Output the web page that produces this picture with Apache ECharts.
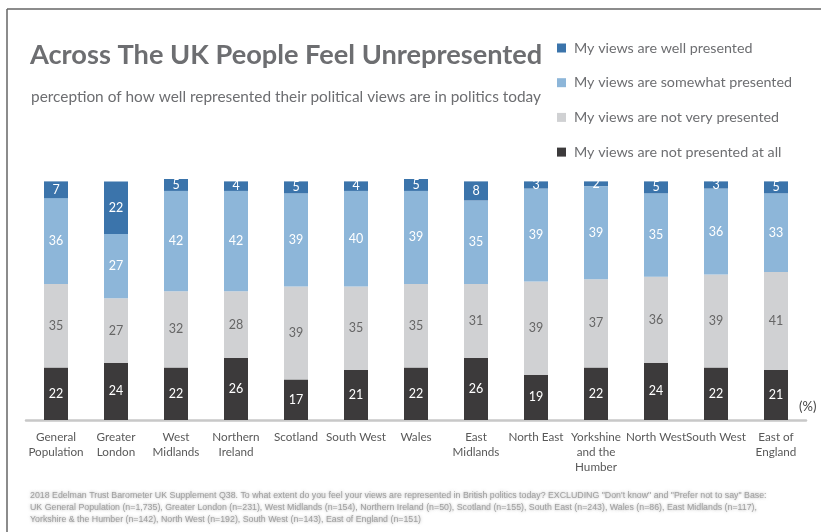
<!DOCTYPE html>
<html>
<head>
<meta charset="utf-8">
<style>
  html, body { margin: 0; padding: 0; background: #ffffff; }
  #chart { width: 821px; height: 532px; }
</style>
<script src="https://cdn.jsdelivr.net/npm/echarts@6/dist/echarts.min.js"></script>
</head>
<body>
<div id="chart"></div>
<script>
// Regions, left to right
const categories = [
  'General\nPopulation', 'Greater\nLondon', 'West\nMidlands', 'Northern\nIreland',
  'Scotland', 'South West', 'Wales', 'East\nMidlands', 'North East',
  'Yorkshine\nand the\nHumber', 'North West', 'South West', 'East of\nEngland'
];

// Share of respondents (%) per answer, stacked bottom to top
const notAtAll = [22, 24, 22, 26, 17, 21, 22, 26, 19, 22, 24, 22, 21];
const notVery  = [35, 27, 32, 28, 39, 35, 35, 31, 39, 37, 36, 39, 41];
const somewhat = [36, 27, 42, 42, 39, 40, 39, 35, 39, 39, 35, 36, 33];
const well     = [7, 22, 5, 4, 5, 4, 5, 8, 3, 2, 5, 3, 5];

const seriesNames = [
  'My views are not presented at all',
  'My views are not very presented',
  'My views are somewhat presented',
  'My views are well presented'
];
const legendOrder = [seriesNames[3], seriesNames[2], seriesNames[1], seriesNames[0]];

const footnote = [
  '2018 Edelman Trust Barometer UK Supplement Q38. To what extent do you feel your views are represented in British politics today? EXCLUDING "Don\'t know" and "Prefer not to say" Base:',
  'UK General Population (n=1,735), Greater London (n=231), West Midlands (n=154), Northern Ireland (n=50), Scotland (n=155), South East (n=243), Wales (n=86), East Midlands (n=117),',
  'Yorkshire & the Humber (n=142), North West (n=192), South West (n=143), East of England (n=151)'
];

const colors = ['#3c3a3b', '#d0d1d3', '#8db6d9', '#3b74ab'];
const labelColors = ['#ffffff', '#666666', '#ffffff', '#ffffff'];
const values = [notAtAll, notVery, somewhat, well];

const FONT = 'Lato, "Open Sans", sans-serif';

const chart = echarts.init(document.getElementById('chart'), null, { renderer: 'canvas' });

chart.setOption({
  backgroundColor: '#ffffff',
  animation: false,
  textStyle: { fontFamily: FONT },
  title: [
    {
      text: 'Across The UK People Feel Unrepresented',
      left: 30, top: 42, padding: 0,
      textStyle: { fontFamily: FONT, fontSize: 27.2, fontWeight: 'bold', color: '#6d6e71' }
    },
    {
      text: 'perception of how well represented their political views are in politics today',
      left: 31, top: 90, padding: 0,
      textStyle: { fontFamily: FONT, fontSize: 15.4, fontWeight: 'normal', color: '#6d6e71' }
    }
  ],
  legend: {
    data: legendOrder,
    orient: 'vertical',
    left: 552, top: 34,
    itemWidth: 9, itemHeight: 9,
    itemGap: 16.7,
    icon: 'rect',
    selectedMode: false,
    textStyle: { fontFamily: FONT, fontSize: 14.3, color: '#6d6e71', lineHeight: 18, padding: [0, 0, 0, 3] }
  },
  grid: { left: 26, right: 15, top: 179, bottom: 112, containLabel: false },
  xAxis: {
    type: 'category',
    data: categories,
    axisLine: { show: true, lineStyle: { color: '#c8c8c8', width: 2.5 } },
    axisTick: { show: false },
    axisLabel: {
      interval: 0, margin: 10,
      fontFamily: FONT, fontSize: 11.7, color: '#595959', lineHeight: 15
    }
  },
  yAxis: {
    type: 'value', min: 0, max: 101,
    show: false,
    splitLine: { show: false }
  },
  series: values.map((arr, i) => ({
    name: seriesNames[i],
    type: 'bar',
    stack: 'total',
    data: arr,
    barWidth: 24,
    itemStyle: { color: colors[i] },
    label: {
      show: true,
      position: 'inside',
      fontFamily: FONT,
      fontSize: 12.5,
      color: labelColors[i]
    }
  })),
  graphic: [
    { type: 'line', shape: { x1: 7, y1: 9, x2: 821, y2: 9 }, style: { stroke: '#666666', lineWidth: 1.5 } },
    { type: 'line', shape: { x1: 7, y1: 9, x2: 7, y2: 532 }, style: { stroke: '#666666', lineWidth: 1.5 } },
    {
      type: 'text', left: 799, top: 400,
      style: { text: '(%)', fontFamily: FONT, fontSize: 13, fill: '#444444' }
    },
    {
      type: 'text', left: 30, top: 490,
      style: {
        text: footnote.join('\n'),
        fontFamily: '"Liberation Sans", Arial, sans-serif',
        fontSize: 8.8, lineHeight: 12,
        fill: '#a0a0a0',
        textShadowColor: 'rgba(140,140,140,0.8)',
        textShadowBlur: 3
      }
    }
  ]
});
</script>
</body>
</html>
